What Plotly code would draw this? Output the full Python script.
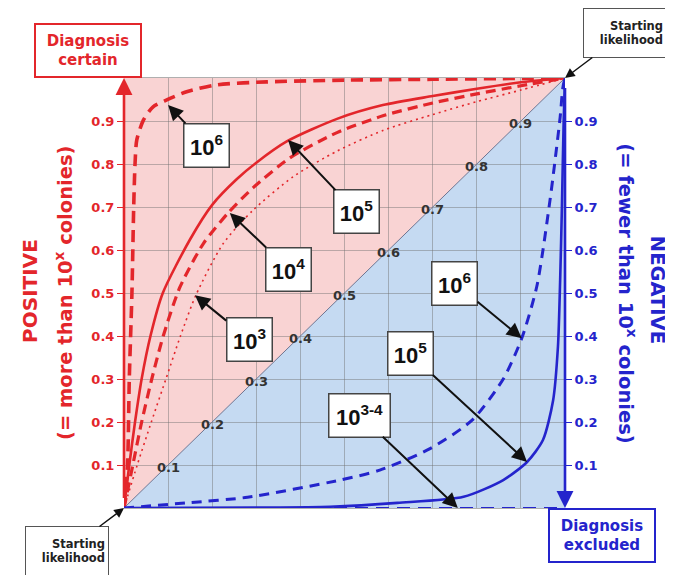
import plotly.graph_objects as go

# ---------------- colours ----------------
RED = "#E3262B"
BLUE = "#2424CC"
PINK = "#F9D3D3"
LIGHTBLUE = "#C5DAF2"
GRID = "rgba(110,110,110,0.45)"

# ---------------- axis ticks ----------------
TICKS = [0.1, 0.2, 0.3, 0.4, 0.5, 0.6, 0.7, 0.8, 0.9]
TICK_TEXT = ["0.1", "0.2", "0.3", "0.4", "0.5", "0.6", "0.7", "0.8", "0.9"]

# ---------------- regions (starting likelihood diagonal splits them) ----------------
POS_REGION_X = [0, 0, 1]
POS_REGION_Y = [0, 1, 1]
NEG_REGION_X = [0, 1, 1]
NEG_REGION_Y = [0, 0, 1]
DIAG_X = [0, 1]
DIAG_Y = [0, 1]

# ---------------- positive test curves (post-test vs pre-test) ----------------
POS6_X = [0, 0.008, 0.012, 0.018, 0.022, 0.025, 0.029, 0.044, 0.066, 0.097, 0.142, 0.21, 0.324, 0.5, 0.7, 1.0]
POS6_Y = [0, 0.1, 0.3, 0.5, 0.7, 0.8, 0.856, 0.902, 0.933, 0.949, 0.968, 0.984, 0.991, 0.995, 0.997, 1.0]

POS5_X = [0, 0.012, 0.025, 0.04, 0.06, 0.088, 0.15, 0.2, 0.256, 0.3, 0.37, 0.483, 0.587, 0.7, 0.8, 0.9, 1.0]
POS5_Y = [0, 0.1, 0.2, 0.3, 0.4, 0.5, 0.625, 0.705, 0.765, 0.803, 0.853, 0.905, 0.937, 0.958, 0.975, 0.99, 1.0]

POS4_X = [0, 0.02, 0.04, 0.063, 0.089, 0.127, 0.18, 0.236, 0.293, 0.376, 0.483, 0.587, 0.7, 0.8, 0.9, 1.0]
POS4_Y = [0, 0.1, 0.2, 0.3, 0.4, 0.514, 0.615, 0.686, 0.745, 0.814, 0.873, 0.912, 0.942, 0.963, 0.982, 1.0]

POS3_X = [0, 0.03, 0.062, 0.095, 0.128, 0.163, 0.225, 0.293, 0.383, 0.483, 0.587, 0.7, 0.8, 0.9, 1.0]
POS3_Y = [0, 0.1, 0.2, 0.3, 0.4, 0.495, 0.615, 0.693, 0.77, 0.83, 0.878, 0.915, 0.945, 0.972, 1.0]

# ---------------- negative test curves ----------------
NEG6_X = [0, 0.143, 0.28, 0.49, 0.58, 0.694, 0.79, 0.86, 0.902, 0.936, 0.966, 0.989, 0.995, 1.0]
NEG6_Y = [0, 0.012, 0.025, 0.065, 0.088, 0.138, 0.205, 0.30, 0.395, 0.515, 0.716, 0.909, 0.977, 1.0]

NEG5_X = [0, 0.3, 0.467, 0.62, 0.77, 0.86, 0.914, 0.95, 0.973, 0.984, 0.989, 0.993, 0.997, 1.0]
NEG5_Y = [0, 0.001, 0.003, 0.012, 0.026, 0.065, 0.107, 0.158, 0.25, 0.375, 0.53, 0.7, 0.9, 1.0]

NEG34_X = [0, 1.0]
NEG34_Y = [0, 0]

# ---------------- curve labels (text, arrow-tip on curve) ----------------
POS_LABELS = ["10<sup>6</sup>", "10<sup>5</sup>", "10<sup>4</sup>", "10<sup>3</sup>"]
POS_TIP_X = [0.10, 0.372, 0.24, 0.161]
POS_TIP_Y = [0.937, 0.856, 0.686, 0.495]
NEG_LABELS = ["10<sup>6</sup>", "10<sup>5</sup>", "10<sup>3-4</sup>"]
NEG_TIP_X = [0.902, 0.914, 0.757]
NEG_TIP_Y = [0.395, 0.107, 0.0]

# layout offsets of label boxes (pixels) - styling, not data
POS_OFF = [(38, 40), (68, 72), (59, 56), (54, 44)]
NEG_OFF = [(-67, -55), (-117, -108), (-98, -93)]
NEG_W = [40, 40, 56]

FONT_WIDE = "DejaVu Sans"
FONT_ARIAL = "Liberation Sans, Arial"

fig = go.Figure()

def path_from(xs, ys):
    pts = " L".join(f"{x},{y}" for x, y in zip(xs, ys))
    return "M" + pts + " Z"

shapes = [
    dict(type="path", path=path_from(POS_REGION_X, POS_REGION_Y), xref="x", yref="y",
         fillcolor=PINK, line=dict(width=0), layer="below"),
    dict(type="path", path=path_from(NEG_REGION_X, NEG_REGION_Y), xref="x", yref="y",
         fillcolor=LIGHTBLUE, line=dict(width=0), layer="below"),
]

# diagonal
fig.add_trace(go.Scatter(x=DIAG_X, y=DIAG_Y, mode="lines",
                         line=dict(color="#6f7490", width=1), hoverinfo="skip"))

def curve(xs, ys, color, width, dash, yaxis="y"):
    fig.add_trace(go.Scatter(x=xs, y=ys, mode="lines", yaxis=yaxis,
                             line=dict(color=color, width=width, dash=dash,
                                       shape="spline", smoothing=0.7),
                             hoverinfo="skip"))

curve(POS3_X, POS3_Y, RED, 1.6, "2px,4px")
curve(POS4_X, POS4_Y, RED, 3.2, "10px,6px")
curve(POS5_X, POS5_Y, RED, 2.6, "solid")
curve(POS6_X, POS6_Y, RED, 3.6, "12px,7px")

curve(NEG34_X, NEG34_Y, BLUE, 2.2, "13px,8px", "y2")
curve(NEG5_X, NEG5_Y, BLUE, 2.6, "solid", "y2")
curve(NEG6_X, NEG6_Y, BLUE, 3.0, "10px,7px", "y2")

annotations = []

# diagonal value labels
for v, t in zip(TICKS, TICK_TEXT):
    annotations.append(dict(x=v, y=v, xref="x", yref="y", text=t, showarrow=False,
                            font=dict(family=FONT_WIDE, size=13, color="#333333", weight="bold"),
                            xanchor="center", yanchor="middle", yshift=-2))

# curve labels with arrows
def label_box(text, tx, ty, off, width=40):
    annotations.append(dict(
        x=tx, y=ty, xref="x", yref="y", text=text, showarrow=True,
        ax=off[0], ay=off[1], arrowhead=2, arrowsize=1.5, arrowwidth=2,
        arrowcolor="#111111", bgcolor="white", bordercolor="#444444",
        borderwidth=1.5, borderpad=2, width=width, height=38,
        font=dict(family=FONT_ARIAL, size=22, color="#111111", weight="bold")))

for t, tx, ty, off in zip(POS_LABELS, POS_TIP_X, POS_TIP_Y, POS_OFF):
    label_box(t, tx, ty, off)
for t, tx, ty, off, w in zip(NEG_LABELS, NEG_TIP_X, NEG_TIP_Y, NEG_OFF, NEG_W):
    label_box(t, tx, ty, off, w)

# axis arrows
annotations.append(dict(x=0, y=1, ax=0, ay=0, xref="x", yref="y", axref="x", ayref="y",
                        text=" ", showarrow=True, arrowhead=2, arrowsize=1.3,
                        arrowwidth=2.6, arrowcolor=RED))
annotations.append(dict(x=1, y=0, ax=1, ay=1, xref="x", yref="y", axref="x", ayref="y",
                        text=" ", showarrow=True, arrowhead=2, arrowsize=1.3,
                        arrowwidth=2.6, arrowcolor=BLUE))

# starting likelihood boxes
for tx, ty, off in [(1, 1, (60, -45)), (0, 0, (-57, 43))]:
    annotations.append(dict(
        x=tx, y=ty, xref="x", yref="y", text="Starting<br>likelihood", showarrow=True,
        ax=off[0], ay=off[1], arrowhead=2, arrowsize=1.3, arrowwidth=1.5,
        arrowcolor="#111111", bgcolor="white", bordercolor="#555555", borderwidth=1,
        borderpad=3, width=76, height=42, align="right",
        font=dict(family=FONT_WIDE, size=11.5, color="#222222", weight="bold")))

# Diagnosis boxes
annotations.append(dict(x=-0.082, y=1.065, xref="paper", yref="paper",
                        xanchor="center", yanchor="middle",
                        text="Diagnosis<br>certain", showarrow=False,
                        bgcolor="white", bordercolor=RED, borderwidth=2, borderpad=2,
                        width=100, height=47,
                        font=dict(family=FONT_WIDE, size=15, color=RED, weight="bold")))
annotations.append(dict(x=1.084, y=-0.063, xref="paper", yref="paper",
                        xanchor="center", yanchor="middle",
                        text="Diagnosis<br>excluded", showarrow=False,
                        bgcolor="white", bordercolor=BLUE, borderwidth=2, borderpad=2,
                        width=100, height=47,
                        font=dict(family=FONT_WIDE, size=15, color=BLUE, weight="bold")))

# side titles
side = [
    (-0.213, 0.505, "POSITIVE", -90, 20, RED),
    (-0.136, 0.500, "(= more than 10<sup>x</sup> colonies)", -90, 19.5, RED),
    (1.209, 0.507, "NEGATIVE", 90, 19.5, BLUE),
    (1.142, 0.498, "(= fewer than 10<sup>x</sup> colonies)", 90, 19.5, BLUE),
]
for sx, sy, st, ang, sz, col in side:
    annotations.append(dict(x=sx, y=sy, xref="paper", yref="paper", text=st,
                            xanchor="center", yanchor="middle",
                            showarrow=False, textangle=ang,
                            font=dict(family=FONT_WIDE, size=sz, color=col, weight="bold")))

# the page body adds an 8px margin, so the figure is 8px smaller on each axis
fig.update_layout(
    width=665, height=567,
    margin=dict(l=116, r=108, t=70, b=67),
    paper_bgcolor="white", plot_bgcolor="white",
    showlegend=False,
    shapes=shapes,
    annotations=annotations,
    xaxis=dict(range=[0, 1], tickvals=TICKS, showticklabels=False, ticks="",
               showgrid=True, gridcolor=GRID, gridwidth=1, zeroline=False,
               showline=True, mirror=True, linecolor="rgba(110,110,110,0.55)", linewidth=1,
               fixedrange=True),
    yaxis=dict(range=[0, 1], tickvals=TICKS, ticktext=TICK_TEXT, ticks="outside",
               ticklen=6, tickcolor=RED, tickwidth=1,
               tickfont=dict(family=FONT_WIDE, size=13, color=RED, weight="bold"),
               showgrid=True, gridcolor=GRID, gridwidth=1, zeroline=False, showline=False,
               fixedrange=True),
    yaxis2=dict(range=[0, 1], tickvals=TICKS, ticktext=TICK_TEXT, ticks="outside",
                ticklen=6, tickcolor=BLUE, tickwidth=1, overlaying="y", side="right",
                anchor="x",
                tickfont=dict(family=FONT_WIDE, size=13, color=BLUE, weight="bold"),
                showgrid=False, zeroline=False, showline=False, fixedrange=True),
)

fig.write_html("out.html")
